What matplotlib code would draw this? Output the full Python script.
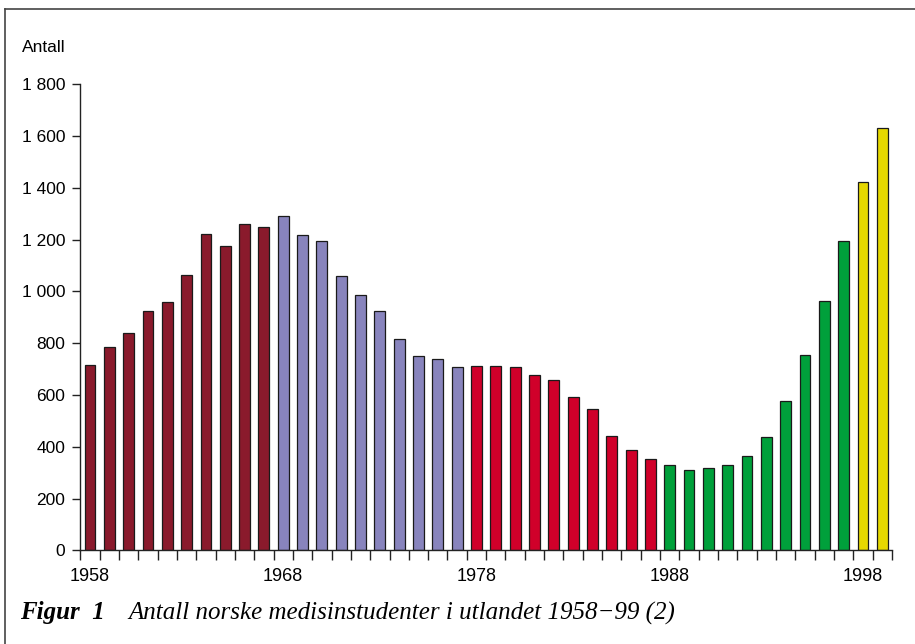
import matplotlib
matplotlib.use("Agg")
import matplotlib.pyplot as plt
from matplotlib.lines import Line2D
import numpy as np

years = list(range(1958, 2000))
values = [717, 786, 840, 925, 960, 1064, 1222, 1175, 1260, 1249,
          1291, 1218, 1195, 1060, 987, 925, 817, 752, 740, 709,
          713, 713, 709, 678, 659, 594, 547, 443, 389, 351,
          331, 312, 316, 331, 366, 439, 578, 755, 964, 1195,
          1422, 1630]
period_colors = ["#8A1A2C", "#8884BD", "#D0002A", "#00A03B", "#E6D800"]
period_index = [0]*10 + [1]*10 + [2]*10 + [3]*10 + [4]*2
year_labels = ["1958", "1968", "1978", "1988", "1998"]
y_ticks = [0, 200, 400, 600, 800, 1000, 1200, 1400, 1600, 1800]
y_ticklabels = ["0", "200", "400", "600", "800", "1 000", "1 200", "1 400", "1 600", "1 800"]

plt.rcParams['font.family'] = ['Liberation Sans', 'DejaVu Sans']

fig = plt.figure(figsize=(9.15, 6.44), dpi=100)
ax = fig.add_axes([80.3/915, 1-550.3/644, 811.7/915, (550.3-84.3)/644])

x = np.arange(len(years))
colors = [period_colors[i] for i in period_index]
ax.bar(x, values, width=0.56, color=colors, edgecolor="#1a1a1a", linewidth=0.9, zorder=2)

ax.set_xlim(-0.5, len(years) - 0.5)
ax.set_ylim(0, 1800)

for s in ["top", "right"]:
    ax.spines[s].set_visible(False)
for s in ["left", "bottom"]:
    ax.spines[s].set_color("#222222")
    ax.spines[s].set_linewidth(1.0)

ax.set_yticks(y_ticks)
ax.set_yticklabels(y_ticklabels, fontsize=12.5)
ax.tick_params(axis="y", direction="out", length=6, width=1.0, color="#222222", pad=5)

label_pos = [years.index(int(l)) for l in year_labels]
ax.set_xticks(label_pos)
ax.set_xticklabels(year_labels, fontsize=13)
ax.set_xticks(np.arange(-0.5, len(years) + 0.5, 1.0), minor=True)
ax.tick_params(axis="x", which="major", length=0, pad=12.5)
ax.tick_params(axis="x", which="minor", direction="out", length=7.5, width=1.0, color="#222222")

fig.text(22/915, 1-48/644, "Antall", fontsize=12.5, ha="left", va="center")

fig.text(20/915, 1-613/644, "Figur  1", fontsize=18, ha="left", va="center",
         family=["Liberation Serif"], style="italic", weight="bold")
fig.text(128/915, 1-613/644, "Antall norske medisinstudenter i utlandet 1958\u221299 (2)",
         fontsize=18, ha="left", va="center", family=["Liberation Serif"], style="italic")

fig.add_artist(Line2D([4.5/915, 1.0], [1-9/644, 1-9/644], color="#444444", linewidth=1.2,
                      transform=fig.transFigure))
fig.add_artist(Line2D([4.5/915, 4.5/915], [0, 1-9/644], color="#444444", linewidth=1.2,
                      transform=fig.transFigure))

fig.savefig("out.png", dpi=100)
